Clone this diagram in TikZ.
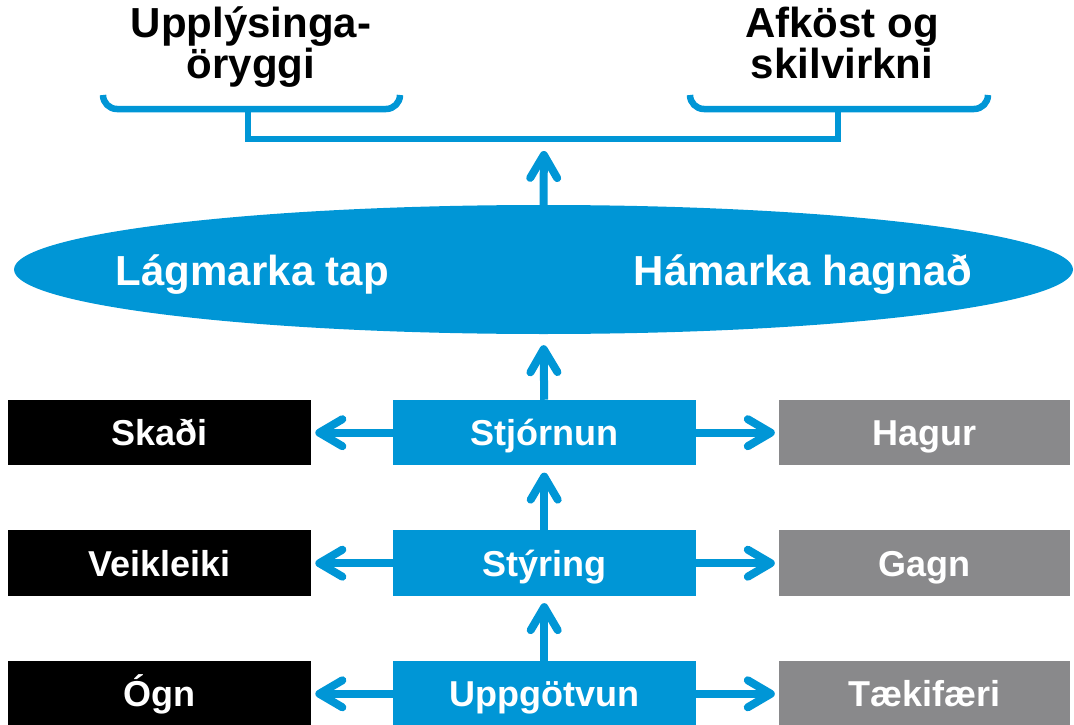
\documentclass[tikz,border=0pt]{standalone}
\usepackage{fontspec}
\setmainfont{Liberation Sans}
\usetikzlibrary{shapes.geometric,arrows.meta}
\definecolor{myblue}{RGB}{0,150,214}
\definecolor{mygray}{RGB}{137,137,139}
\begin{document}
\begin{tikzpicture}[x=1pt,y=-1pt,
  box/.style={rectangle, minimum height=65.5pt, inner sep=0pt,
    text height=25.8pt, text depth=0pt, text=white,
    font=\fontsize{36}{36}\selectfont\bfseries},
  badbox/.style={box, fill=black, minimum width=302.7pt},
  midbox/.style={box, fill=myblue, minimum width=303pt},
  goodbox/.style={box, fill=mygray, minimum width=291pt},
  title/.style={align=center, inner sep=0pt, anchor=base,
    font=\fontsize{42}{36}\selectfont\bfseries},
  elltext/.style={inner sep=0pt, anchor=base, text=white,
    font=\fontsize{42}{42}\selectfont\bfseries},
  arr/.style={draw=myblue, line width=8pt,
    -{Straight Barb[length=23pt,width=27pt,line cap=round,line join=round]}},
  brace/.style={draw=myblue, line width=6.5pt},
]
\useasboundingbox (0,0) rectangle (1074,725);

% top titles (base anchor = baseline of last line)
\node[title] (sec) at (251,78) {Upplýsinga-\\öryggi};
\node[title] (perf) at (842,78) {Afköst og\\skilvirkni};

% brackets
\draw[brace, rounded corners=14pt] (103,95) -- (103,109) -- (400,109) -- (400,95);
\draw[brace, rounded corners=14pt] (690,95) -- (690,109) -- (988,109) -- (988,95);
\coordinate (join) at (544,139);
\draw[brace] (248,109) -- (248,139) -- (838,139) -- (838,109);

% ellipse
\node[ellipse, fill=myblue, minimum width=1059pt, minimum height=129pt, inner sep=0pt] (ell) at (543.5,269.5) {};
\node[elltext] (min) at (252.5,285) {Lágmarka tap};
\node[elltext] (max) at (803,285) {Hámarka hagnað};

% rows
\node[badbox] (skadi) at (159.3,432.7) {Skaði};
\node[midbox] (stj) at (544.2,432.7) {Stjórnun};
\node[goodbox] (hagur) at (924.5,432.7) {Hagur};

\node[badbox] (veik) at (159.3,563.2) {Veikleiki};
\node[midbox] (sty) at (544.2,563.2) {Stýring};
\node[goodbox] (gagn) at (924.5,563.2) {Gagn};

\node[badbox] (ogn) at (159.3,693.8) {Ógn};
\node[midbox] (upp) at (544.2,693.8) {Uppgötvun};
\node[goodbox] (taek) at (924.5,693.8) {Tækifæri};

% arrows
\foreach \m/\b/\g in {stj/skadi/hagur, sty/veik/gagn, upp/ogn/taek}{
  \draw[arr, shorten >=4.5pt] (\m.west) -- (\b.east);
  \draw[arr, shorten >=4pt] (\m.east) -- (\g.west);
}
\draw[arr, shorten >=7pt] (upp.north) -- (sty.south);
\draw[arr, shorten >=7pt] (sty.north) -- (stj.south);
\draw[arr, shorten >=11pt] (stj.north) -- (ell.south);
\draw[arr, shorten >=12pt] (ell.north) -- (join);
\end{tikzpicture}
\end{document}
